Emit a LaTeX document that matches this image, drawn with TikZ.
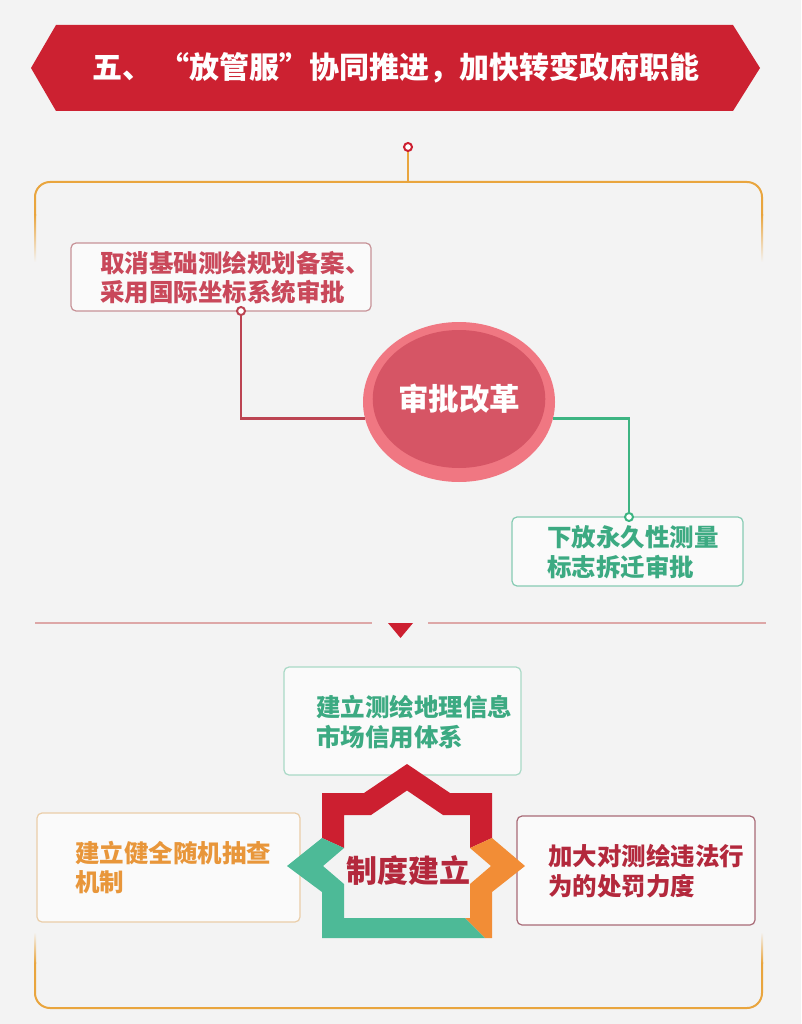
\documentclass[tikz,border=0pt]{standalone}
\usepackage{fontspec}
\setmainfont{Noto Sans CJK SC}
\usetikzlibrary{shapes.geometric,calc}
\definecolor{bg}{HTML}{F3F3F3}
\definecolor{bannerred}{HTML}{CC2131}
\definecolor{frameor}{HTML}{E9A53E}
\definecolor{starred}{HTML}{CC1F30}
\definecolor{staror}{HTML}{F28D36}
\definecolor{stargreen}{HTML}{4DBA97}
\definecolor{rosetxt}{HTML}{C9485A}
\definecolor{rosebd}{HTML}{C79297}
\definecolor{greentxt}{HTML}{3CAA82}
\definecolor{greenbd}{HTML}{86CBB3}
\definecolor{greenbd2}{HTML}{A9D9C6}
\definecolor{ortxt}{HTML}{E8963A}
\definecolor{orbd}{HTML}{EACDA8}
\definecolor{dredtxt}{HTML}{B3283C}
\definecolor{dredbd}{HTML}{A86A76}
\definecolor{ellout}{HTML}{F07782}
\definecolor{ellin}{HTML}{D65565}
\definecolor{conred}{HTML}{BC4452}
\definecolor{congreen}{HTML}{3DB482}
\definecolor{seppink}{HTML}{DDA7A7}
\begin{document}
\begin{tikzpicture}[x=1pt,y=-1pt,
  box/.style={draw, rounded corners=5pt, line width=1.2pt, fill=white!55!bg, inner sep=0pt},
  txt/.style={font=\bfseries\fontsize{24.5}{29.5}\selectfont, align=left, inner sep=0pt, anchor=west},
  dot/.style={circle, draw, line width=2pt, fill=white, inner sep=0pt, minimum size=8pt},
  frame/.style={draw=frameor, line width=2pt, rounded corners=15pt},
  conn/.style={line width=2.5pt},
]
\fill[bg] (0,0) rectangle (801,1024);
\useasboundingbox (0,0) rectangle (801,1024);

% banner
\fill[bannerred] (31,68) -- (56,25) -- (733,25) -- (760,68) -- (733,111) -- (56,111) -- cycle;
\node[font=\bfseries\fontsize{30}{30}\selectfont, text=white] (title) at (396,68) {五、 “放管服”协同推进，加快转变政府职能};

% top connector and frame
\node[dot, draw=starred] (c0) at (408,147) {};
\coordinate (ftop) at (408,182);
\draw[frameor, line width=2.2pt] (c0) -- (ftop);
\draw[frame] (35,216) -- (35,182) -- (762,182) -- (762,216);
\shade[top color=frameor, bottom color=bg] (34,215) rectangle (36,262);
\shade[top color=frameor, bottom color=bg] (761,215) rectangle (763,262);
\draw[frame] (35,962) -- (35,1008) -- (762,1008) -- (762,962);
\shade[top color=bg, bottom color=frameor] (34,932) rectangle (36,963);
\shade[top color=bg, bottom color=frameor] (761,932) rectangle (763,963);

% separator
\draw[seppink, line width=1.5pt] (35,623) -- (372,623);
\draw[seppink, line width=1.5pt] (428,623) -- (766,623);
\fill[starred] (388,623) -- (413,623) -- (400.5,638) -- cycle;

% approval reform
\node[ellipse, fill=ellout, minimum width=192, minimum height=160, inner sep=0pt] (ell) at (459,402) {};
\node[ellipse, fill=ellin, minimum width=164, minimum height=138, inner sep=0pt, text=white, font=\bfseries\fontsize{30.5}{30.5}\selectfont] (elli) at (459,399) {审批改革};

\node[box, draw=rosebd, minimum width=300, minimum height=68] (b1) at (221,277) {};
\node[txt, text=rosetxt] (t1) at (100,277.5) {取消基础测绘规划备案、\\采用国际坐标系统审批};
\node[dot, draw=conred] (c1) at (241,311) {};
\draw[conred, conn] (c1) |- (ell.190);

\node[box, draw=greenbd, minimum width=231, minimum height=69] (b2) at (627.5,551.5) {};
\node[txt, text=greentxt] (t2) at (547,552) {下放永久性测量\\标志拆迁审批};
\node[dot, draw=congreen] (c2) at (629,517) {};
\draw[congreen, conn] (ell.-10) -| (c2);

% system building
\node[box, draw=greenbd2, minimum width=237, minimum height=108] (b3) at (402.5,721) {};
\node[txt, text=greentxt] (t3) at (316,722) {建立测绘地理信息\\市场信用体系};

\node[box, draw=orbd, minimum width=263, minimum height=109] (b4) at (168.5,867.5) {};
\node[txt, text=ortxt] (t4) at (75,867.5) {建立健全随机抽查\\机制};

\node[box, draw=dredbd, minimum width=238, minimum height=109] (b5) at (636,870.5) {};
\node[txt, text=dredtxt] (t5) at (548,871) {加大对测绘违法行\\为的处罚力度};

% star
\def\starpath{(407,764) -- (450,793) -- (492,793) -- (492,838) -- (525,866) -- (492,892) -- (492,938) -- (322,938) -- (322,892) -- (287,866) -- (322,838) -- (322,793) -- (364,793) -- cycle
 (407,790.5) -- (443,815) -- (470,815) -- (470,848) -- (491,866) -- (470,884) -- (470,918) -- (344,918) -- (344,884) -- (323,866) -- (344,848) -- (344,815) -- (371,815) -- cycle}
\begin{scope}
\clip (250,750) -- (565,750) -- (565,838) -- (492,838) -- (470,848) -- (344,848) -- (322,838) -- (250,838) -- cycle;
\fill[starred, even odd rule] \starpath;
\end{scope}
\begin{scope}
\clip (470,848) -- (492,838) -- (565,838) -- (565,960) -- (507,960) -- (455,908) -- (455,848) -- cycle;
\fill[staror, even odd rule] \starpath;
\end{scope}
\begin{scope}
\clip (250,838) -- (322,838) -- (344,848) -- (455,848) -- (455,908) -- (507,960) -- (250,960) -- cycle;
\fill[stargreen, even odd rule] \starpath;
\end{scope}
\node[text=dredtxt, font=\bfseries\fontsize{31}{31}\selectfont, inner sep=0pt] (sys) at (408,870) {制度建立};
\end{tikzpicture}
\end{document}
